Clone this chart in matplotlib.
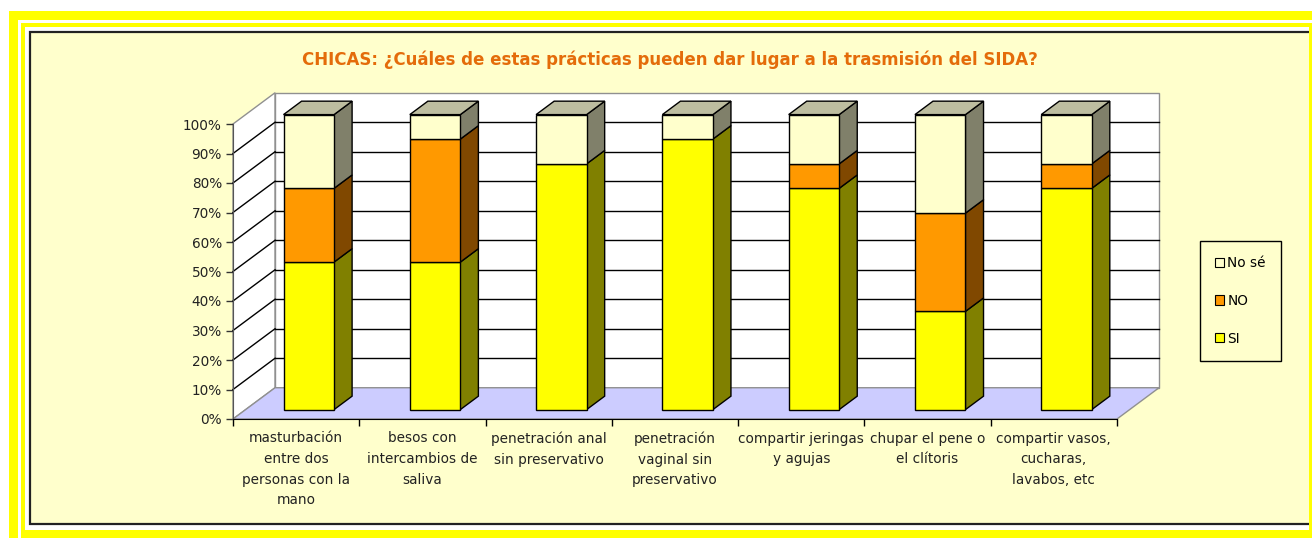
import matplotlib
matplotlib.use("Agg")
import matplotlib.pyplot as plt
from matplotlib.patches import Rectangle, Polygon, Patch
import numpy as np

plt.rcParams['font.family'] = ['DejaVu Sans']

# ---- data (percent of answers) ----
categories = [
    "masturbación\nentre dos\npersonas con la\nmano",
    "besos con\nintercambios de\nsaliva",
    "penetración anal\nsin preservativo",
    "penetración\nvaginal sin\npreservativo",
    "compartir jeringas\ny agujas",
    "chupar el pene o\nel clítoris",
    "compartir vasos,\ncucharas,\nlavabos, etc",
]
si = [50.0, 50.0, 83.3, 91.7, 75.0, 33.3, 75.0]
no = [25.0, 41.7, 0.0, 0.0, 8.3, 33.3, 8.3]
no_se = [25.0, 8.3, 16.7, 8.3, 16.7, 33.4, 16.7]
series_names = ["SI", "NO", "No sé"]
y_ticks = list(range(0, 101, 10))
title = "CHICAS: ¿Cuáles de estas prácticas pueden dar lugar a la trasmisión del SIDA?"

# ---- styling ----
front_colors = ["#FFFF00", "#FF9900", "#FFFFCC"]
side_colors = ["#808000", "#804800", "#80806A"]
top_color = "#BDBDA0"
floor_color = "#CCCCFF"
bg_cream = "#FFFFCC"
wall_edge = "#909090"
text_color = "#222222"

W, H = 1312, 538
fig = plt.figure(figsize=(W / 100, H / 100), dpi=100)
fig.patch.set_facecolor("white")


def px_rect(x0, y0, x1, y1, z, **kw):
    """Rectangle given in pixel units measured from the top-left corner."""
    r = Rectangle((x0 / W, 1 - y1 / H), (x1 - x0) / W, (y1 - y0) / H,
                  transform=fig.transFigure, zorder=z, **kw)
    fig.patches.append(r)
    return r


# decorative double yellow frame around the chart area
px_rect(9, 11, W + 5, H + 5, -10, facecolor="#FFFF00", edgecolor="none")
px_rect(18, 20, W + 5, H + 5, -9, facecolor="white", edgecolor="none")
px_rect(21, 23, W + 5, H + 5, -8, facecolor="#FFFF00", edgecolor="none")
px_rect(25, 27, 1309, 530, -7, facecolor="white", edgecolor="none")
px_rect(30, 32, W + 20, 524, -6, facecolor=bg_cream, edgecolor="#222222",
        linewidth=1.6)
px_rect(1309, 23, W + 5, 530, -5, facecolor="#FFFF00", edgecolor="none")

# ---- axes: front plane of the 3-D box ----
ax_l, ax_r, ax_b, ax_t = 233, 1117, 419, 124
ax = fig.add_axes([ax_l / W, 1 - ax_b / H, (ax_r - ax_l) / W, (ax_b - ax_t) / H])
ax.set_zorder(2)
ax.set_facecolor("none")
n = len(categories)
ax.set_xlim(0, n)
ax.set_ylim(0, 100)

# depth offset of the box (in data units)
Dx, Dy = 0.333, 10.6
f0, f1 = 0.30, 0.73          # front / back depth of the bars
bar_w = 0.40

# walls and floor
ax.add_patch(Polygon([(0, 0), (0, 100), (Dx, 100 + Dy), (Dx, Dy)], closed=True,
                     facecolor="white", edgecolor=wall_edge, lw=1, zorder=1, clip_on=False))
ax.add_patch(Rectangle((Dx, Dy), n, 100, facecolor="white", edgecolor=wall_edge,
                       lw=1, zorder=1, clip_on=False))
ax.add_patch(Polygon([(0, 0), (n, 0), (n + Dx, Dy), (Dx, Dy)], closed=True,
                     facecolor=floor_color, edgecolor=wall_edge, lw=1, zorder=2, clip_on=False))

# gridlines on back and side wall
for yv in y_ticks[1:-1]:
    ax.plot([Dx, n + Dx], [yv + Dy, yv + Dy], color="black", lw=1, zorder=2, clip_on=False)
    ax.plot([0, Dx], [yv, yv + Dy], color="black", lw=1, zorder=2, clip_on=False)

# stacked 3-D bars
stack = [si, no, no_se]
ddx, ddy = (f1 - f0) * Dx, (f1 - f0) * Dy
for i in range(n):
    xl = i + 0.5 - bar_w / 2 + f0 * Dx
    xr = xl + bar_w
    base = 0.0
    top_idx = max(k for k in range(3) if stack[k][i] > 0)
    for k in range(3):
        h = stack[k][i]
        if h <= 0:
            continue
        b = base + f0 * Dy
        t = b + h
        ax.add_patch(Polygon([(xr, b), (xr + ddx, b + ddy), (xr + ddx, t + ddy), (xr, t)],
                             closed=True, facecolor=side_colors[k], edgecolor="black",
                             lw=1, zorder=5, clip_on=False))
        ax.bar(xl, h, bottom=b, width=bar_w, align="edge", color=front_colors[k],
               edgecolor="black", linewidth=1, zorder=6, clip_on=False)
        if k == top_idx:
            ax.add_patch(Polygon([(xl, t), (xr, t), (xr + ddx, t + ddy), (xl + ddx, t + ddy)],
                                 closed=True, facecolor=top_color, edgecolor="black",
                                 lw=1, zorder=5, clip_on=False))
        base += h

# axis lines, ticks and labels
for s in ["top", "right"]:
    ax.spines[s].set_visible(False)
ax.spines["left"].set_color("#555555")
ax.spines["bottom"].set_color("black")
ax.spines["left"].set_zorder(3)
ax.spines["bottom"].set_zorder(3)
ax.set_yticks(y_ticks)
ax.set_yticklabels([f"{v}%" for v in y_ticks], fontsize=9.8, color=text_color)
ax.tick_params(axis="y", length=5, width=1, color="#333333", pad=3)
ax.set_xticks(np.arange(0, n + 1))
ax.set_xticklabels([""] * (n + 1))
ax.tick_params(axis="x", which="major", length=5, width=1, direction="out")
ax.set_xticks(np.arange(n) + 0.5, minor=True)
ax.set_xticklabels(categories, minor=True, fontsize=9.8, color=text_color,
                   linespacing=1.6)
ax.tick_params(axis="x", which="minor", length=0, pad=9)

# title
fig.text(670 / W, 1 - 60 / H, title, ha="center", va="center", fontsize=12,
         fontweight="bold", color="#E46C0A")

# legend
handles = [Patch(facecolor=front_colors[k], edgecolor="black", linewidth=0.8,
                 label=series_names[k]) for k in (2, 1, 0)]
leg = fig.legend(handles=handles, loc="upper left",
                 bbox_to_anchor=(1200 / W, 1 - 241 / H), borderaxespad=0,
                 frameon=True, fontsize=9.8, handlelength=0.65, handleheight=0.65,
                 handletextpad=0.25, labelspacing=1.75, borderpad=1.1,
                 fancybox=False, edgecolor="black", facecolor=bg_cream,
                 framealpha=1)
leg.get_frame().set_linewidth(1)
leg.set_zorder(3)

fig.savefig("out.png", dpi=100, facecolor=fig.get_facecolor())
